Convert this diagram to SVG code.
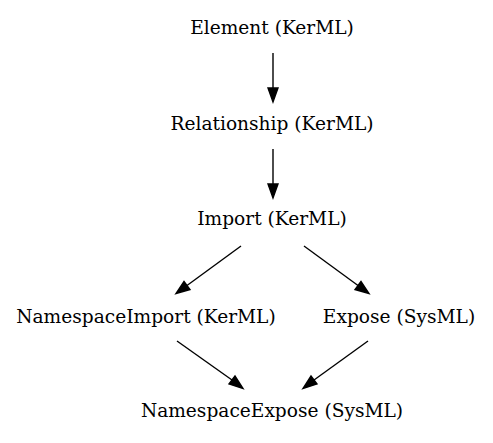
<svg xmlns="http://www.w3.org/2000/svg" width="493" height="443" viewBox="0 0 493 443">
<style>
text{font-family:"DejaVu Serif","Liberation Serif",serif;font-size:18.6px;fill:#000;text-anchor:middle}
.e line{stroke:#000;stroke-width:1.4}
.e polygon{fill:#000;stroke:#000;stroke-width:1.4}
</style>
<rect width="493" height="443" fill="#fff"/>
<g id="element"><text x="272" y="34">Element (KerML)</text></g>
<g id="relationship"><text x="272" y="130">Relationship (KerML)</text></g>
<g id="import"><text x="272" y="225">Import (KerML)</text></g>
<g id="namespaceimport"><text x="146" y="323">NamespaceImport (KerML)</text></g>
<g id="expose"><text x="399" y="323">Expose (SysML)</text></g>
<g id="namespaceexpose"><text x="272" y="417">NamespaceExpose (SysML)</text></g>
<g id="connectors" class="e">
<line x1="273" y1="53" x2="273" y2="88"/>
<polygon points="268,88 278,88 273,102"/>
<line x1="273" y1="149" x2="273" y2="184"/>
<polygon points="268,184 278,184 273,198"/>
<line x1="241" y1="246" x2="187" y2="285.5"/>
<polygon points="184,281.5 190,289.5 176,293.5"/>
<line x1="304" y1="246" x2="358" y2="285.5"/>
<polygon points="361,281.5 355,289.5 369,293.5"/>
<line x1="177" y1="341" x2="232" y2="380"/>
<polygon points="229,384 235,376 243,388.5"/>
<line x1="368" y1="341" x2="314" y2="380"/>
<polygon points="317,384 311,376 303,388.5"/>
</g>
</svg>
